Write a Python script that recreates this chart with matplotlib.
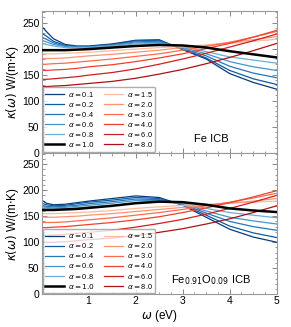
import matplotlib
matplotlib.use("Agg")
import matplotlib.pyplot as plt
import numpy as np
from matplotlib.ticker import MultipleLocator, AutoMinorLocator

plt.rcParams['font.family'] = ['Liberation Sans', 'DejaVu Sans']

# omega grid (eV)
omega = [0.0, 0.1, 0.25, 0.5, 0.75, 1.0, 1.5, 2.0, 2.5, 3.0, 3.5, 4.0, 4.5, 5.0]

alphas_lo = ['0.1', '0.2', '0.4', '0.6', '0.8']
alphas_hi = ['1.5', '2.0', '3.0', '4.0', '6.0', '8.0']

# ---- Fe ICB ----
fe_lo = [
    [243, 233, 219, 208, 205, 205, 209, 216, 217, 198, 180, 152, 135, 122],
    [230, 224, 214, 206, 204, 204, 208, 215, 216, 199, 182, 158, 142, 131],
    [222, 218, 211, 205, 203, 203, 207, 213, 214, 200, 186, 166, 153, 144],
    [216, 213, 208, 204, 203, 203, 206, 211, 212, 202, 190, 175, 165, 158],
    [210, 208, 205, 202, 202, 202, 205, 209, 210, 204, 194, 184, 178, 172],
]
fe_one = [197, 197, 197, 197, 198, 199, 202, 205, 207, 206, 202, 195, 189, 183]
fe_hi = [
    [190, 190, 190, 191, 192, 193, 196, 199, 202, 204, 207, 210, 214, 218],
    [181, 181, 181, 182, 184, 186, 189, 193, 197, 202, 206, 212, 217, 223],
    [170, 170, 171, 172, 174, 176, 180, 185, 190, 197, 204, 212, 222, 233],
    [158, 158, 159, 160, 162, 165, 169, 175, 182, 190, 200, 210, 222, 235],
    [141, 141, 142, 144, 146, 149, 154, 161, 170, 180, 191, 203, 215, 228],
    [127, 127, 128, 129, 131, 133, 137, 143, 151, 160, 171, 183, 196, 210],
]

# ---- Fe0.91O0.09 ICB ----
feo_lo = [
    [181, 175, 172, 173, 176, 179, 184, 189, 186, 171, 148, 125, 110, 100],
    [175, 172, 170, 171, 174, 177, 181, 186, 184, 172, 152, 131, 118, 109],
    [171, 169, 168, 169, 171, 174, 178, 183, 182, 173, 156, 140, 130, 123],
    [168, 167, 166, 167, 169, 171, 175, 180, 180, 174, 160, 148, 141, 135],
    [165, 164, 164, 165, 166, 168, 171, 175, 177, 175, 165, 157, 152, 147],
]
feo_one = [162, 162, 162, 163, 164, 166, 170, 175, 178, 177, 172, 165, 161, 158]
feo_hi = [
    [155, 155, 155, 156, 157, 158, 161, 165, 168, 171, 173, 175, 177, 179],
    [148, 148, 148, 149, 150, 152, 155, 159, 163, 167, 171, 175, 179, 184],
    [138, 138, 138, 139, 141, 143, 147, 152, 157, 163, 170, 177, 185, 194],
    [128, 128, 129, 130, 132, 134, 138, 143, 149, 157, 166, 176, 187, 199],
    [113, 113, 114, 115, 117, 119, 123, 129, 136, 144, 154, 165, 177, 190],
    [100, 100, 100, 101, 103, 105, 108, 113, 119, 126, 135, 145, 157, 170],
]

blues = plt.cm.Blues(np.linspace(0.95, 0.5, len(alphas_lo)))
reds = plt.cm.Reds(np.linspace(0.25, 0.85, len(alphas_hi)))

fig = plt.figure(figsize=(2.91, 3.27), dpi=100)
ax1 = fig.add_axes([0.143, 0.533, 0.808, 0.433])
ax2 = fig.add_axes([0.143, 0.100, 0.808, 0.433], sharex=ax1)


def panel(ax, lo, one, hi, name):
    for i, a in enumerate(alphas_lo):
        ax.plot(omega, lo[i], color=blues[i], lw=0.9, label=r'$\alpha=$' + a)
    ax.plot(omega, one, color='k', lw=1.8, zorder=5, label=r'$\alpha=1.0$')
    for i, a in enumerate(alphas_hi):
        ax.plot(omega, hi[i], color=reds[i], lw=0.9, label=r'$\alpha=$' + a)
    ax.set_xlim(0, 5)
    ax.set_ylim(0, 272)
    ax.yaxis.set_major_locator(MultipleLocator(50))
    ax.yaxis.set_minor_locator(AutoMinorLocator(5))
    ax.xaxis.set_major_locator(MultipleLocator(1))
    ax.xaxis.set_minor_locator(MultipleLocator(0.25))
    ax.tick_params(which='both', direction='in', top=True, right=True,
                   color='0.45', labelsize=7.5, pad=1.5)
    ax.tick_params(which='major', length=3.5, width=0.6)
    ax.tick_params(which='minor', length=1.8, width=0.5)
    for s in ax.spines.values():
        s.set_color('0.6')
        s.set_linewidth(0.8)
    ax.set_ylabel(r'$\kappa(\omega)$ W/(m$\cdot$K)', fontsize=8.5, labelpad=1)
    ax.legend(loc='lower left', ncol=2, fontsize=5.3, labelspacing=0.15,
              handlelength=2.6, columnspacing=1.2, borderpad=0.35,
              handletextpad=0.5, framealpha=0.8, edgecolor='0.6',
              borderaxespad=0.15)
    ax.text(0.72, 0.10, name, transform=ax.transAxes, fontsize=8,
            ha='center', va='center')


panel(ax1, fe_lo, fe_one, fe_hi, 'Fe ICB')
panel(ax2, feo_lo, feo_one, feo_hi, r'Fe$_{0.91}$O$_{0.09}$ ICB')
ax1.set_xticks([1, 2, 3, 4, 5])
plt.setp(ax1.get_xticklabels(), visible=False)
ax2.set_xlabel(r'$\omega$ (eV)', fontsize=8.5, labelpad=1)

fig.savefig('out.png', dpi=100)
